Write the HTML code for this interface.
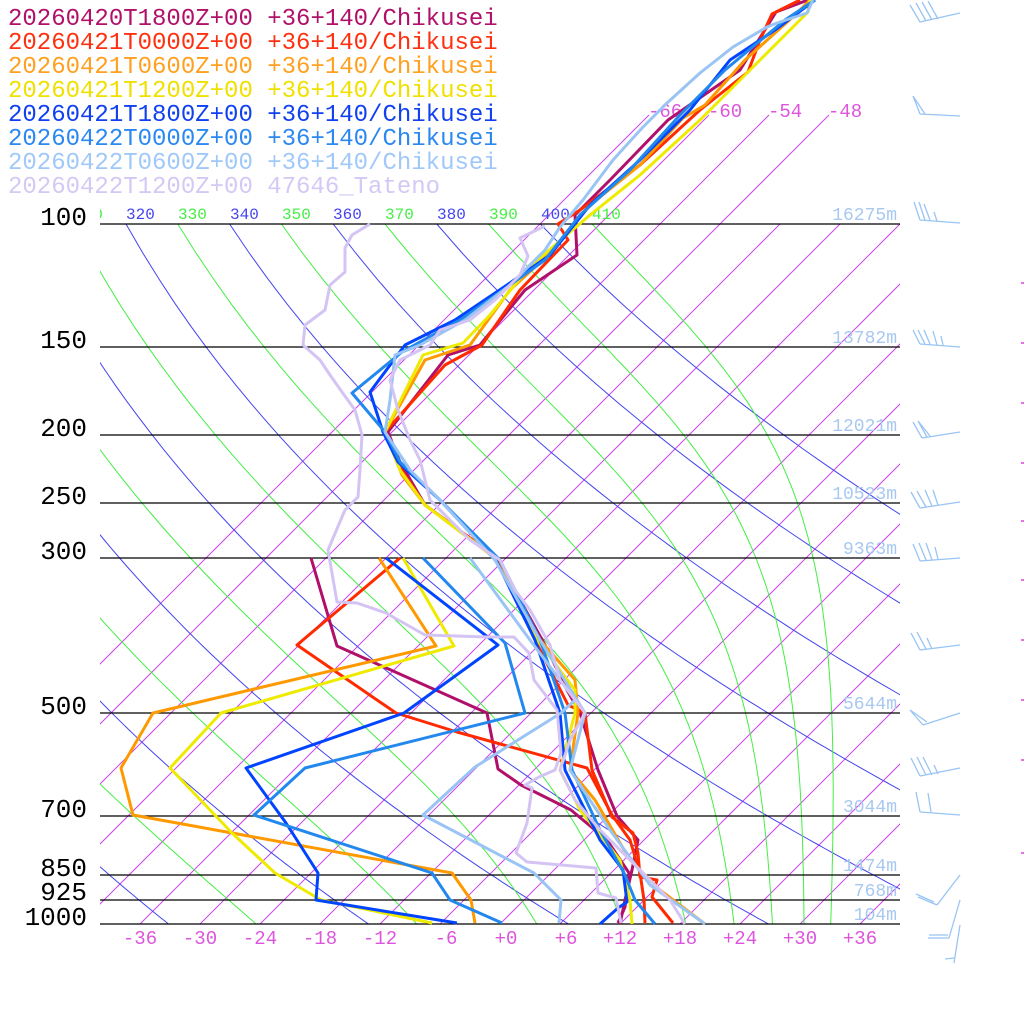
<!DOCTYPE html>
<html><head><meta charset="utf-8"><style>
html,body{margin:0;padding:0;background:#fff;}
svg{display:block;}
.leg{font-family:"Liberation Mono",monospace;font-size:24px;}
.pl{font-family:"Liberation Mono",monospace;font-size:26px;fill:#000;}
.tk{font-family:"Liberation Mono",monospace;font-size:19px;fill:#dd55dd;}
.th{font-family:"Liberation Mono",monospace;font-size:16px;}
.hl{font-family:"Liberation Mono",monospace;font-size:18px;fill:#a8c8f0;}
</style></head><body>
<svg id="s" width="1024" height="1024" viewBox="0 0 1024 1024" xmlns="http://www.w3.org/2000/svg">
<defs><clipPath id="c"><rect x="100" y="224" width="800" height="700"/></clipPath>
<clipPath id="cl"><rect x="100" y="190" width="800" height="40"/></clipPath></defs>
<g id="grid" clip-path="url(#c)" fill="none"></g>
<g id="top" fill="none" stroke="#cc44ee" stroke-width="1"></g>
<g stroke="#000" stroke-width="1.2">
<line x1="100" y1="224" x2="900" y2="224"/><line x1="100" y1="347" x2="900" y2="347"/>
<line x1="100" y1="435" x2="900" y2="435"/><line x1="100" y1="503" x2="900" y2="503"/>
<line x1="100" y1="558" x2="900" y2="558"/><line x1="100" y1="713" x2="900" y2="713"/>
<line x1="100" y1="816" x2="900" y2="816"/><line x1="100" y1="875" x2="900" y2="875"/>
<line x1="100" y1="900" x2="900" y2="900"/><line x1="100" y1="924" x2="900" y2="924"/>
</g>
<g class="th" clip-path="url(#cl)">
<text x="74" y="219" fill="#44ee44">310</text><text x="126" y="219" fill="#4444ee">320</text>
<text x="178" y="219" fill="#44ee44">330</text><text x="230" y="219" fill="#4444ee">340</text>
<text x="282" y="219" fill="#44ee44">350</text><text x="333" y="219" fill="#4444ee">360</text>
<text x="385" y="219" fill="#44ee44">370</text><text x="437" y="219" fill="#4444ee">380</text>
<text x="489" y="219" fill="#44ee44">390</text><text x="541" y="219" fill="#4444ee">400</text>
<text x="592" y="219" fill="#44ee44">410</text>
</g>
<g class="tk">
<text x="648" y="117">-66</text><text x="708" y="117">-60</text><text x="768" y="117">-54</text><text x="828" y="117">-48</text>
</g>
<g class="tk" text-anchor="middle">
<text x="140" y="944">-36</text><text x="200" y="944">-30</text><text x="260" y="944">-24</text>
<text x="320" y="944">-18</text><text x="380" y="944">-12</text><text x="446" y="944">-6</text>
<text x="506" y="944">+0</text><text x="566" y="944">+6</text><text x="620" y="944">+12</text>
<text x="680" y="944">+18</text><text x="740" y="944">+24</text><text x="800" y="944">+30</text><text x="860" y="944">+36</text>
</g>
<g class="pl" text-anchor="end">
<text x="87" y="225">100</text><text x="87" y="348">150</text><text x="87" y="436">200</text>
<text x="87" y="504">250</text><text x="87" y="559">300</text><text x="87" y="714">500</text>
<text x="87" y="817">700</text><text x="87" y="876">850</text><text x="87" y="900">925</text><text x="87" y="925">1000</text>
</g>
<g class="hl" text-anchor="end">
<text x="897" y="220">16275m</text><text x="897" y="343">13782m</text><text x="897" y="431">12021m</text>
<text x="897" y="499">10523m</text><text x="897" y="554">9363m</text><text x="897" y="709">5644m</text>
<text x="897" y="812">3044m</text><text x="897" y="871">1474m</text><text x="897" y="896">768m</text><text x="897" y="920">104m</text>
</g>
<g id="data" fill="none" stroke-width="3" stroke-linejoin="round"></g>
<g fill="none" stroke="#99c4f4" stroke-width="1.3">
<path d="M920,22 L960,13 M920,22 L910,5 M926,21 L916,3 M932,20 L922,2 M938,19 L928,1"/>
<path d="M920,114 L960,116 M920,114 L913,96 L925,114"/>
<path d="M920,220 L960,223 M920,220 L914,202 M925,220 L919,202 M930,220 L924,204 M937,221 L934,212"/>
<path d="M920,344 L960,347 M920,344 L913,330 M925,344 L918,330 M930,344 L924,330 M937,345 L933,331 M943,345 L941,336"/>
<path d="M922,438 L960,432 M922,438 L913,422 M927,437 L918,421 L930,436"/>
<path d="M920,508 L960,502 M920,508 L911,492 M926,507 L917,491 M932,506 L925,490 M938,505 L933,490"/>
<path d="M920,561 L960,558 M920,561 L913,544 M926,560 L919,543 M932,560 L926,543 M938,559 L935,547"/>
<path d="M920,650 L960,645 M920,650 L911,633 M926,649 L917,632 M932,649 L927,638"/>
<path d="M923,725 L960,713 M923,725 L910,710 L927,722"/>
<path d="M920,776 L960,768 M920,776 L911,758 M926,775 L917,757 M932,775 L923,757 M938,774 L934,765"/>
<path d="M920,812 L960,815 M920,812 L916,792 M931,812 L928,793"/>
<path d="M937,905 L960,875 M937,905 L918,897 M934,902 L916,894"/>
<path d="M949,938 L960,900 M949,938 L928,938 M948,935 L929,935"/>
<path d="M954,963 L960,925 M954,958 L945,959"/>
</g>
<g stroke="#dd44dd" stroke-width="1.5">
<line x1="1021" y1="283" x2="1024" y2="283"/><line x1="1021" y1="343" x2="1024" y2="343"/>
<line x1="1021" y1="403" x2="1024" y2="403"/><line x1="1021" y1="463" x2="1024" y2="463"/>
<line x1="1021" y1="521" x2="1024" y2="521"/><line x1="1021" y1="580" x2="1024" y2="580"/>
<line x1="1021" y1="640" x2="1024" y2="640"/><line x1="1021" y1="700" x2="1024" y2="700"/>
<line x1="1021" y1="760" x2="1024" y2="760"/><line x1="1021" y1="853" x2="1024" y2="853"/>
</g>
<g class="leg">
<text x="8" y="25" fill="#b0106a">20260420T1800Z+00 +36+140/Chikusei</text>
<text x="8" y="49" fill="#ff3010">20260421T0000Z+00 +36+140/Chikusei</text>
<text x="8" y="73" fill="#ffa020">20260421T0600Z+00 +36+140/Chikusei</text>
<text x="8" y="97" fill="#f0e000">20260421T1200Z+00 +36+140/Chikusei</text>
<text x="8" y="121" fill="#1040f0">20260421T1800Z+00 +36+140/Chikusei</text>
<text x="8" y="145" fill="#2a88f0">20260422T0000Z+00 +36+140/Chikusei</text>
<text x="8" y="169" fill="#a0c8f8">20260422T0600Z+00 +36+140/Chikusei</text>
<text x="8" y="193" fill="#d4c8f4">20260422T1200Z+00 47646_Tateno</text>
</g>
</svg>
<script>
(function(){
var NS="http://www.w3.org/2000/svg";
function Y(p){return 924-304*Math.log(1000/p);}
function X(T,y){return 500+10*T+(924-y);}
function add(g,d,col,w){var e=document.createElementNS(NS,"path");e.setAttribute("d",d);e.setAttribute("stroke",col);e.setAttribute("stroke-width",w);e.setAttribute("fill","none");g.appendChild(e);}
var g=document.getElementById("grid");
for(var T=-66;T<=60;T+=6){add(g,"M"+(500+10*T)+",924L"+(500+10*T+700)+",224","#cc44ee",1);}
for(var th=180;th<=400;th+=20){var d="";for(var p=100;p<=1000;p+=10){var t=th*Math.pow(p/1000,0.2857)-273.15;var y=Y(p);d+=(p==100?"M":"L")+X(t,y).toFixed(1)+","+y.toFixed(1);}add(g,d,"#4444ee",1);}
function es(Tc){return 6.112*Math.exp(17.67*Tc/(Tc+243.5));}
function dTdp(p,T){var e=es(T-273.15);var rs=0.622*e/(p-e);var Rd=287,cp=1004,L=2.5e6;return (Rd*T+L*rs)/(p*(cp+L*L*rs*0.622/(Rd*T*T)));}
for(var th=190;th<=410;th+=20){var p=100,T=th*Math.pow(0.1,0.2857);var d="M"+X(T-273.15,Y(p)).toFixed(1)+","+Y(p).toFixed(1);var dp=2;
while(p<1000){var k1=dTdp(p,T);var k2=dTdp(p+dp,T+k1*dp);T+=0.5*(k1+k2)*dp;p+=dp;if(Math.round(p)%10==0){var y=Y(p);d+="L"+X(T-273.15,y).toFixed(1)+","+y.toFixed(1);}}
add(g,d,"#44ee44",1);}
var tp=document.getElementById("top");
[-66,-60,-54,-48].forEach(function(T){add(tp,"M"+(500+10*T+700)+",224L"+(500+10*T+809)+",115","#cc44ee",1);});
var D=document.getElementById("data");
function pl(pts,col){add(D,"M"+pts.replace(/\s+/g," L").trim(),col,3);}
var S=[
["#b0106a","808,0 776,12 740,70 668,120 610,180 575,215 577,255 525,290 480,345 448,355 388,432 400,462 425,505 497,558 520,600 545,645 567,690 580,713 598,770 617,816 638,840 632,870 625,900 620,924",
 "311,558 337,646 487,713 498,769 521,785 571,810 607,840 629,873 625,907 618,923"],
["#ff2a00","800,0 772,14 760,40 748,72 700,110 640,165 580,210 558,224 568,240 520,290 482,345 445,365 385,432 398,465 425,505 497,558 535,640 568,705 585,713 592,770 612,817 633,833 638,853 640,877 657,880 652,897 673,923",
 "400,558 297,645 396,713 457,732 587,768 612,815 630,840 640,873 644,900 645,923"],
["#ff9900","810,0 795,15 745,60 705,105 683,118 640,165 590,205 548,255 510,290 470,345 425,360 385,432 402,475 425,505 495,558 540,640 575,680 578,713 570,770 595,800 630,860 660,890 705,924",
 "379,558 436,646 153,713 121,768 133,815 452,873 471,900 475,923"],
["#eeea00","810,0 808,12 760,60 700,120 640,175 590,215 555,245 527,270 490,315 463,343 423,355 385,432 400,470 425,505 495,558 537,640 575,690 575,713 560,770 580,810 620,860 630,900 632,924",
 "403,558 454,646 221,713 170,768 232,833 275,873 321,900 432,923"],
["#0044ff","815,0 775,30 730,60 690,110 640,160 590,205 550,255 507,285 455,320 405,345 370,392 383,432 398,462 440,500 497,562 535,640 560,713 565,770 600,840 623,870 627,902 618,908 600,924",
 "386,558 498,645 404,713 246,768 286,823 318,873 316,900 457,923"],
["#2288ee","815,0 785,20 725,70 680,115 630,170 580,215 545,260 503,290 460,320 402,352 352,393 385,432 400,462 440,500 500,560 540,640 565,713 572,770 600,830 625,875 635,900 655,924",
 "423,558 505,643 525,713 305,768 254,815 432,873 450,900 502,923"],
["#99c4f4","813,0 807,13 777,23 767,27 733,47 700,73 667,103 643,127 613,160 583,200 560,227 545,250 510,285 465,320 420,345 395,355 390,400 385,432 410,470 440,500 495,560 540,640 585,713 570,770 610,830 650,885 705,924",
 "470,558 530,640 575,700 561,713 475,767 423,815 534,873 561,900 559,923"],
["#d4c4f4","545,226 520,238 528,256 520,275 495,300 470,320 440,330 430,345 400,360 390,380 398,410 410,440 420,460 430,500 470,540 500,560 515,590 530,610 550,645 560,680 585,713 570,740 560,770 575,800 600,830 640,870 670,900 685,924",
 "370,224 352,235 345,248 345,272 330,285 325,310 305,325 303,345 320,360 330,375 342,392 355,410 362,435 360,470 358,497 345,510 328,550 337,602 357,603 386,613 425,635 487,637 514,637 529,653 534,680 557,710 561,753 555,770 539,777 525,785 532,788 527,823 516,853 527,862 596,868 598,893 616,898 621,923"]
];
S.forEach(function(s){pl(s[2],s[0]);pl(s[1],s[0]);});
})();
</script>
</body></html>
